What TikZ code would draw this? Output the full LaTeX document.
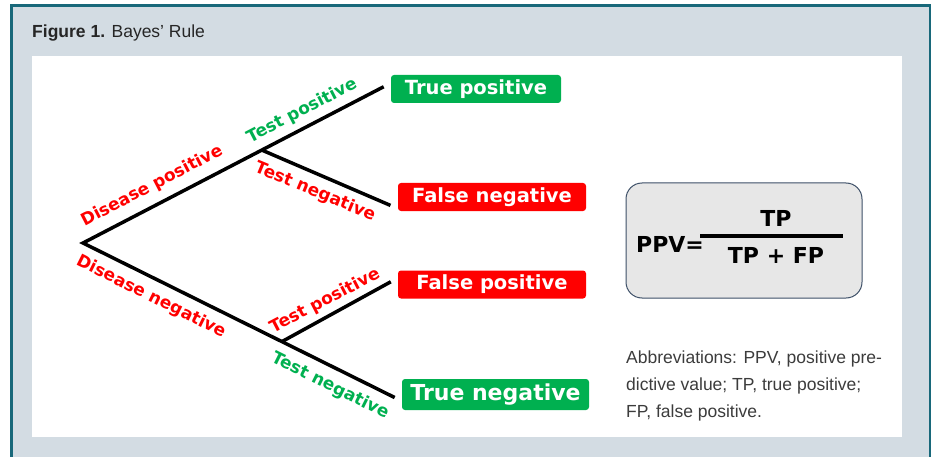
\documentclass[tikz,border=0pt]{standalone}
\usepackage{fontspec}
\setmainfont{Liberation Sans}
\newfontfamily\heavyfont{DejaVu Sans}
\usepackage{xcolor}
\definecolor{frameteal}{RGB}{24,104,122}
\definecolor{panelgrey}{RGB}{211,220,227}
\definecolor{okgreen}{RGB}{0,176,80}
\definecolor{badred}{RGB}{255,0,0}
\definecolor{ppvfill}{RGB}{231,231,231}
\definecolor{ppvedge}{RGB}{62,80,104}
\definecolor{notegrey}{RGB}{60,60,60}

\tikzset{
  branch/.style={line width=3.5pt},
  outcome/.style={rounded corners=3pt, text=white, inner xsep=0pt, minimum height=28pt,
    font=\heavyfont\bfseries\fontsize{19.5}{20}\selectfont},
  blabel/.style={inner sep=0pt, font=\heavyfont\bfseries\fontsize{17}{17}\selectfont},
  formula/.style={inner sep=0pt, font=\heavyfont\bfseries\fontsize{22}{22}\selectfont},
}

\begin{document}
\begin{tikzpicture}[x=1pt,y=1pt,yscale=-1,xscale=1]
\useasboundingbox (0,0) rectangle (931,457);

%Shape: Frame
\fill[panelgrey] (11,6) rectangle (931,457);
\draw[frameteal, line width=3pt] (11,457) -- (11,6) -- (930,6) -- (930,457);
%Shape: Panel
\fill[white] (32,56) rectangle (902,437);

% Text Node
\node[anchor=base west, inner sep=0pt, font=\fontsize{17.5}{21}\selectfont, text=black!85] (title) at (32,38) {\textbf{Figure 1.} Bayes' Rule};

%Shape: Outcomes
\node[outcome, fill=okgreen, minimum width=170pt] (tp) at (476,89) {True positive};
\node[outcome, fill=badred, minimum width=188pt] (fn) at (492,197) {False negative};
\node[outcome, fill=badred, minimum width=188pt] (fp) at (492,284.5) {False positive};
\node[outcome, fill=okgreen, minimum width=187pt, minimum height=31pt,
  font=\heavyfont\bfseries\fontsize{22}{22}\selectfont] (tn) at (495.5,394.5) {True negative};

%Straight Lines
\coordinate (root) at (83,243);
\path (root) -- (tp.176) coordinate[pos=0.581] (dpos);
\path (root) -- (tn.184) coordinate[pos=0.624] (dneg);
\draw[branch, shorten <=8pt, shorten >=8pt] (tp.176) -- (root) -- (tn.184);
\draw[branch, shorten >=8pt] (dpos) -- (fn.187);
\draw[branch, shorten >=8pt] (dneg) -- (fp.176);

% Text Node
\node[blabel, rotate=27.5, text=badred] (dposlbl) at (152,186) {Disease positive};
\node[blabel, rotate=27.4, text=okgreen] (tposlbl) at (302,111) {Test positive};
\node[blabel, rotate=-22.5, text=badred] (tneglbl) at (315,192) {Test negative};
\node[blabel, rotate=-26.5, text=badred] (dneglbl) at (151,297) {Disease negative};
\node[blabel, rotate=27.5, text=badred] (fposlbl) at (325,301) {Test positive};
\node[blabel, rotate=-26.5, text=okgreen] (tnlbl) at (330,386) {Test negative};

%Shape: Rounded Rectangle
\node[draw=ppvedge, fill=ppvfill, rounded corners=16pt, line width=1pt,
  minimum width=236pt, minimum height=115pt] (ppv) at (744,240.5) {};
\node[formula] (lhs) at (670,244) {PPV=};
\node[formula] (num) at (776,218) {TP};
\node[formula] (den) at (776,255.5) {TP + FP};
\draw[line width=3.5pt] (700,236) -- (843,236);

% Text Node
\node[anchor=north west, align=left, inner sep=0pt, font=\fontsize{17.5}{27}\selectfont, text=notegrey] (abbr) at (626,351)
  {Abbreviations: PPV, positive pre-\\dictive value; TP, true positive;\\FP, false positive.};

\end{tikzpicture}
\end{document}
